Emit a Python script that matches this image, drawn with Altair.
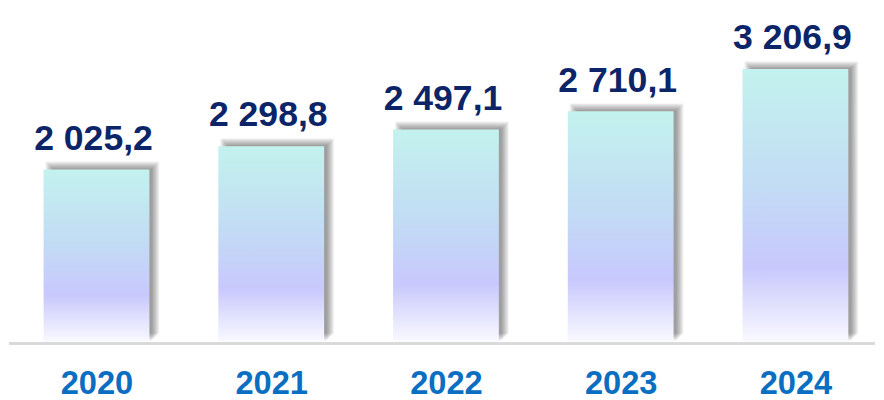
import altair as alt
import pandas as pd

years = ["2020", "2021", "2022", "2023", "2024"]
values = [2025.2, 2298.8, 2497.1, 2710.1, 3206.9]
labels = ["2 025,2", "2 298,8", "2 497,1", "2 710,1", "3 206,9"]

df = pd.DataFrame({"year": years, "value": values, "label": labels})

W = 876
H = 335
BW = 107

xs = alt.X("year:O", sort=years,
           scale=alt.Scale(type="point", range=[88.5, 795.5], padding=0,
                           round=False),
           axis=alt.Axis(title=None, domain=False, ticks=False, labelAngle=0,
                         labelFont="Liberation Sans", labelFontSize=33,
                         labelFontWeight="bold", labelColor="#0a6fc2",
                         labelPadding=27, labelBaseline="top"))
ys = alt.Y("value:Q", scale=alt.Scale(domain=[0, 3900], nice=False),
           axis=None)

base = alt.Chart(df).encode(x=xs, y=ys)

shadows = []
for k in range(-3, 5):
    shadows.append(
        base.mark_bar(color="#000000", opacity=0.055, width=BW + 2 * k,
                      xOffset=6, yOffset=-4 - k)
    )

grad = alt.Gradient(
    gradient="linear",
    stops=[
        alt.GradientStop(color="#c3f2ee", offset=0),
        alt.GradientStop(color="#c2dcf4", offset=0.42),
        alt.GradientStop(color="#c8c8fd", offset=0.73),
        alt.GradientStop(color="#f9f9ff", offset=1),
    ],
    x1=0, x2=0, y1=0, y2=1,
)

bars = base.mark_bar(color=grad, width=BW)

text = base.mark_text(baseline="alphabetic", dy=-20, dx=-3, font="Liberation Sans",
                      fontSize=36, fontWeight="bold", color="#0c2468").encode(
    text="label:N")

baseline = alt.Chart(df).mark_rule(color="#d9d9d9", strokeWidth=2).encode(
    x=alt.value(0), x2=alt.value(W), y=alt.value(H + 2))

chart = alt.layer(*shadows, bars, baseline, text).properties(
    width=W, height=H, padding={"left": 0, "top": 0, "right": 0, "bottom": 0}
).configure_view(stroke=None)

chart.save("out.html", embed_options={"renderer": "svg", "actions": False})
